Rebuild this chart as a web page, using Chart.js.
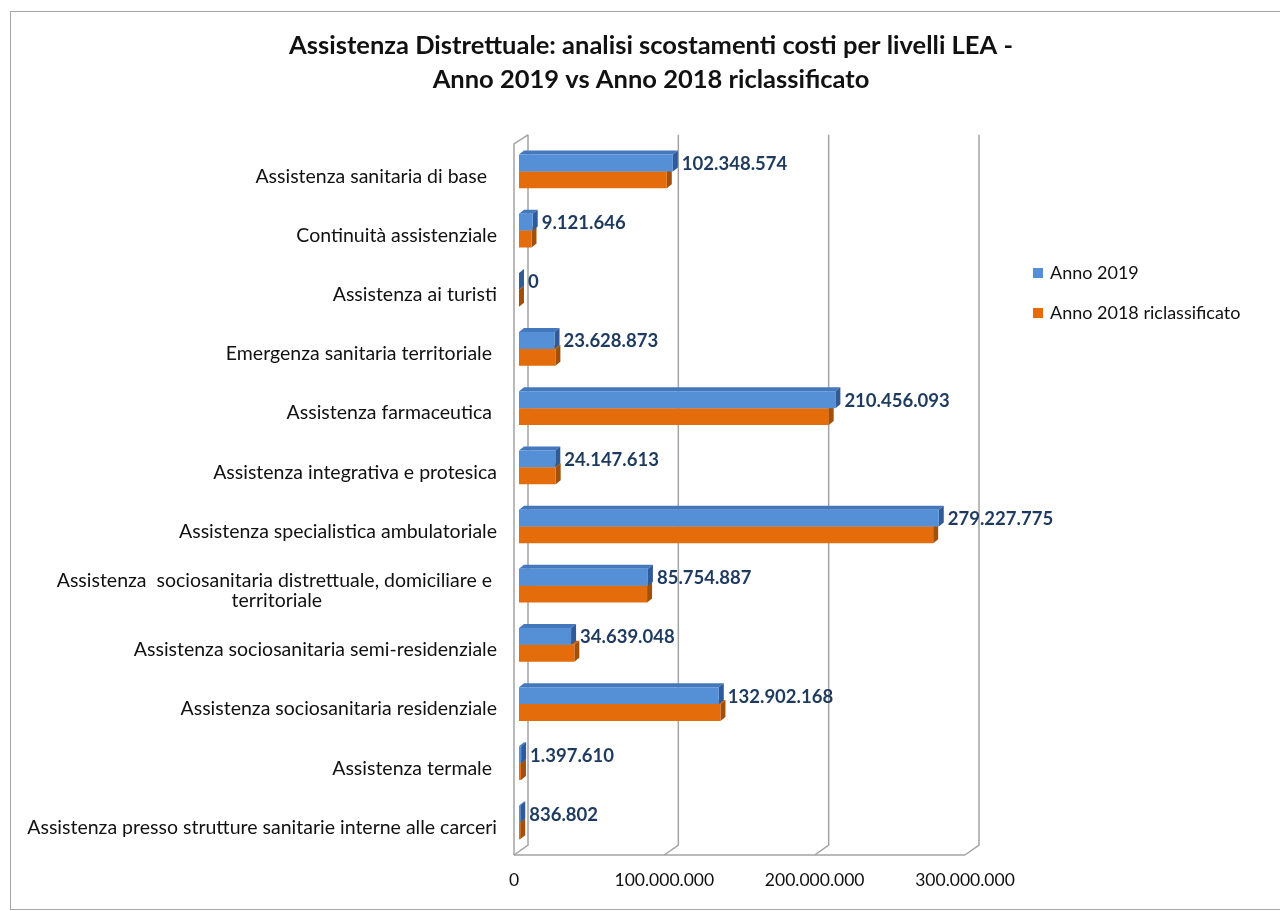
<!DOCTYPE html>
<html>
<head>
<meta charset="utf-8">
<script src="https://cdn.jsdelivr.net/npm/chart.js@4.4.1/dist/chart.umd.min.js"></script>
<style>
  html, body { margin: 0; padding: 0; background: #fff; overflow: hidden; }
  .wrap { position: absolute; left: 10px; top: 11px; width: 1282px; height: 900px; }
</style>
</head>
<body>
<div class="wrap"><canvas id="leaChart"></canvas></div>
<script>
// categories (top to bottom)
const categories = [
  'Assistenza sanitaria di base  ',
  'Continuità assistenziale',
  'Assistenza ai turisti',
  'Emergenza sanitaria territoriale ',
  'Assistenza farmaceutica ',
  'Assistenza integrativa e protesica',
  'Assistenza specialistica ambulatoriale',
  ['Assistenza  sociosanitaria distrettuale, domiciliare e ', 'territoriale'],
  'Assistenza sociosanitaria semi-residenziale',
  'Assistenza sociosanitaria residenziale',
  'Assistenza termale ',
  'Assistenza presso strutture sanitarie interne alle carceri'
];

const anno2019 = [102348574, 9121646, 0, 23628873, 210456093, 24147613, 279227775, 85754887, 34639048, 132902168, 1397610, 836802];
// 2018 values have no labels in the picture
const anno2018 = [98300000, 8300000, 0, 24200000, 206000000, 24400000, 275500000, 85200000, 36800000, 134000000, 1300000, 800000];

const xTicks = [0, 100000000, 200000000, 300000000];
const seriesNames = ['Anno 2019', 'Anno 2018 riclassificato'];

const FONT = 'Lato, "Open Sans", sans-serif';
const blue = '#5590d6', blueSide = '#2f5b99', blueTop = '#4577bd';
const orange = '#e46c0a', orangeSide = '#a44f08', orangeTop = '#c95e08';
const gridColor = '#a3a3a3';
const DX = 5, DY = 4;       // bar depth
const WX = 14, WY = 10;     // wall depth

function fmt(n) {
  return String(n).replace(/\B(?=(\d{3})+(?!\d))/g, '.');
}

function poly(ctx, pts, color) {
  ctx.beginPath();
  ctx.moveTo(pts[0][0], pts[0][1]);
  for (let i = 1; i < pts.length; i++) ctx.lineTo(pts[i][0], pts[i][1]);
  ctx.closePath();
  ctx.fillStyle = color;
  ctx.fill();
}

const excel3d = {
  id: 'excel3d',
  beforeDraw(chart) {
    const ctx = chart.ctx;
    ctx.save();
    ctx.strokeStyle = '#a6a6a6';
    ctx.lineWidth = 1;
    ctx.strokeRect(0.5, 0.5, 1290, 898);
    ctx.restore();
  },
  beforeDatasetsDraw(chart) {
    const ctx = chart.ctx;
    const xs = chart.scales.x;
    const area = chart.chartArea;
    const floorY = area.bottom + 3;
    const topY = area.top - 7;
    ctx.save();
    ctx.strokeStyle = gridColor;
    ctx.lineWidth = 1.5;
    // back gridlines with slant to the floor
    xTicks.forEach(v => {
      const px = xs.getPixelForValue(v);
      ctx.beginPath();
      ctx.moveTo(px + WX - 5, topY);
      ctx.lineTo(px + WX - 5, floorY - WY);
      ctx.lineTo(px - 5, floorY);
      ctx.stroke();
    });
    // floor front edge
    const x0 = xs.getPixelForValue(0) - 5;
    ctx.beginPath();
    ctx.moveTo(x0, floorY);
    ctx.lineTo(xs.getPixelForValue(xTicks[xTicks.length - 1]) - 5, floorY);
    ctx.stroke();
    // left wall
    ctx.beginPath();
    ctx.moveTo(x0, floorY);
    ctx.lineTo(x0, topY + 9);
    ctx.lineTo(x0 + WX, topY);
    ctx.stroke();
    ctx.restore();

    // side and top faces of bars, orange first
    [[1, orangeSide, orangeTop], [0, blueSide, blueTop]].forEach(([di, side, top]) => {
      const meta = chart.getDatasetMeta(di);
      meta.data.forEach(el => {
        const t = el.y - el.height / 2, b = el.y + el.height / 2;
        const base = el.base, end = el.x;
        poly(ctx, [[base, t], [base + DX, t - DY], [end + DX, t - DY], [end, t]], top);
        poly(ctx, [[end, t], [end + DX, t - DY], [end + DX, b - DY], [end, b]], side);
      });
    });
  },
  afterDatasetsDraw(chart) {
    const ctx = chart.ctx;
    const ys = chart.scales.y;
    const area = chart.chartArea;
    ctx.save();
    // value labels for Anno 2019
    ctx.font = 'bold 18.5px ' + FONT;
    ctx.fillStyle = '#1f3a5f';
    ctx.textAlign = 'left';
    ctx.textBaseline = 'middle';
    chart.getDatasetMeta(0).data.forEach((el, i) => {
      ctx.fillText(fmt(anno2019[i]), el.x + DX + 4, el.y + 1);
    });

    // category labels, multi-line ones centered within their block
    ctx.font = '19.5px ' + FONT;
    ctx.fillStyle = '#111';
    const right = area.left - 22;
    categories.forEach((c, i) => {
      const lines = Array.isArray(c) ? c : [c];
      const w = Math.max(...lines.map(l => ctx.measureText(l).width));
      const cy = ys.getPixelForValue(i) + 5;
      ctx.textAlign = 'center';
      lines.forEach((l, k) => {
        const ly = cy + (k - (lines.length - 1) / 2) * 20;
        ctx.fillText(l, right - w / 2, ly);
      });
    });

    // legend
    const lx = 1023, ly = [262, 302];
    const cols = [blue, orange];
    ctx.textAlign = 'left';
    ctx.font = '18px ' + FONT;
    seriesNames.forEach((name, i) => {
      ctx.fillStyle = cols[i];
      ctx.fillRect(lx, ly[i] - 5, 10, 10);
      ctx.fillStyle = '#111';
      ctx.fillText(name, lx + 17, ly[i]);
    });
    ctx.restore();
  }
};

new Chart(document.getElementById('leaChart'), {
  type: 'bar',
  data: {
    labels: categories,
    datasets: [
      { label: seriesNames[0], data: anno2019, backgroundColor: blue, borderWidth: 0, categoryPercentage: 0.57, barPercentage: 1.0 },
      { label: seriesNames[1], data: anno2018, backgroundColor: orange, borderWidth: 0, categoryPercentage: 0.57, barPercentage: 1.0 }
    ]
  },
  options: {
    indexAxis: 'y',
    responsive: true,
    maintainAspectRatio: false,
    animation: false,
    layout: { padding: { left: 0, right: 0, top: 0, bottom: 19 } },
    scales: {
      x: {
        min: 0,
        max: 300000000,
        grid: { display: false, drawTicks: false },
        border: { display: false },
        afterBuildTicks: s => { s.ticks = xTicks.map(v => ({ value: v })); },
        afterFit: s => { s.height = 40; },
        ticks: {
          padding: 18,
          labelOffset: -5,
          color: '#111',
          font: { family: FONT, size: 17.5 },
          callback: v => fmt(v)
        }
      },
      y: {
        grid: { display: false, drawTicks: false },
        border: { display: false },
        ticks: { display: false },
        afterFit: s => { s.width = 509; }
      },
      pad: {
        axis: 'y',
        type: 'linear',
        position: 'right',
        min: 0,
        max: 1,
        grid: { display: false, drawTicks: false },
        border: { display: false },
        ticks: { display: false },
        afterFit: s => { s.width = 322; }
      }
    },
    plugins: {
      legend: { display: false },
      tooltip: { enabled: false },
      title: {
        display: true,
        text: ['Assistenza Distrettuale: analisi scostamenti costi per livelli LEA -', 'Anno 2019 vs Anno 2018 riclassificato'],
        color: '#111',
        font: { family: FONT, size: 25.5, weight: 'bold', lineHeight: 1.33 },
        padding: { top: 18, bottom: 45 }
      }
    }
  },
  plugins: [excel3d]
});
</script>
</body>
</html>
